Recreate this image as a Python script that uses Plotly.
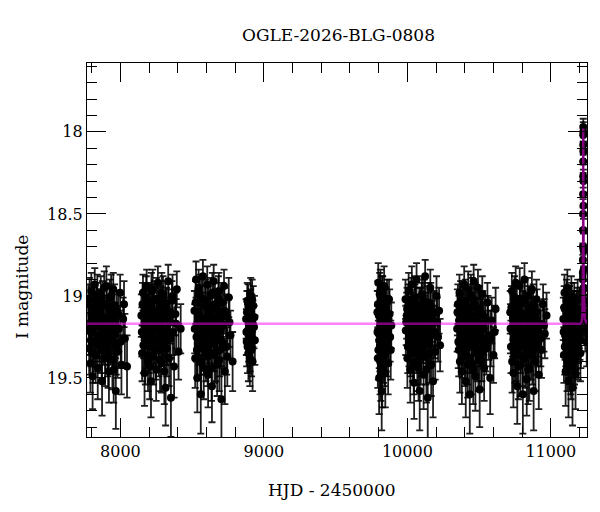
import plotly.graph_objects as go

# ---- data: (HJD-2450000, I mag, error) per observing season ----
season_1 = [(7776,19.05,0.12),(7782,19.32,0.16),(7788,19.18,0.13),(7791,19.41,0.18),(7797,18.97,0.11),
            (7803,19.22,0.14),(7806,19.49,0.20),(7812,19.11,0.12),(7818,19.28,0.15),(7821,18.93,0.10),
            (7827,19.36,0.17),(7833,19.15,0.13),(7836,19.03,0.11),(7842,19.44,0.19),(7848,19.24,0.14),
            (7851,19.08,0.12),(7857,19.31,0.16),(7863,18.99,0.11),(7866,19.19,0.13),(7872,19.52,0.21),
            (7878,19.13,0.12),(7884,19.27,0.15),(7887,18.95,0.10),(7893,19.38,0.17),(7899,19.16,0.13),
            (7905,19.06,0.12),(7911,19.33,0.16),(7917,19.21,0.14),(7920,19.46,0.19),(7926,19.01,0.11),
            (7932,19.25,0.14),(7938,19.12,0.12),(7944,19.39,0.18),(7950,18.96,0.10),(7956,19.29,0.15),
            (7962,19.17,0.13),(7968,19.58,0.23),(7974,19.09,0.12),(7980,19.34,0.16),(7989,19.20,0.14),
            (7998,18.98,0.11),(8007,19.42,0.18),(8019,19.14,0.13),(8031,19.26,0.15),(8046,19.43,0.19)]
season_1b = [(7779,19.21,0.15),(7785,19.02,0.13),(7794,19.27,0.16),(7800,19.12,0.14),(7809,19.35,0.18),
             (7815,19.07,0.13),(7824,19.19,0.15),(7830,19.29,0.17),(7839,18.99,0.12),(7845,19.16,0.14),
             (7854,19.24,0.16),(7860,19.10,0.14),(7869,19.33,0.18),(7875,19.04,0.13),(7881,19.22,0.15),
             (7890,19.14,0.14),(7896,19.30,0.17),(7902,18.94,0.12),(7908,19.18,0.15),(7914,19.37,0.19),
             (7923,19.08,0.13),(7929,19.26,0.16),(7935,19.00,0.13),(7941,19.20,0.15),(7947,19.13,0.14),
             (7953,19.45,0.20),(7959,19.06,0.13),(7965,19.23,0.15),(7971,19.31,0.17),(7985,19.11,0.14),
             (8002,19.28,0.16),(8025,19.05,0.14)]

season_2 = [(8146,19.12,0.13),(8151,19.35,0.17),(8157,18.98,0.11),(8162,19.24,0.14),(8168,19.47,0.20),
            (8171,19.08,0.12),(8177,19.29,0.15),(8183,18.94,0.10),(8186,19.19,0.13),(8192,19.40,0.18),
            (8198,19.04,0.12),(8201,19.31,0.16),(8207,19.15,0.13),(8213,19.52,0.22),(8216,18.97,0.11),
            (8222,19.26,0.15),(8228,19.10,0.12),(8231,19.37,0.17),(8237,19.02,0.11),(8243,19.21,0.14),
            (8249,19.45,0.19),(8255,19.13,0.13),(8261,18.92,0.10),(8267,19.33,0.16),(8273,19.18,0.13),
            (8279,19.06,0.12),(8285,19.41,0.18),(8291,19.23,0.14),(8297,18.99,0.11),(8303,19.30,0.16),
            (8309,19.14,0.13),(8315,19.56,0.23),(8321,19.07,0.12),(8327,19.27,0.15),(8333,18.91,0.10),
            (8339,19.38,0.17),(8345,19.16,0.13),(8352,19.62,0.24),(8359,19.03,0.12),(8366,19.22,0.14),
            (8374,19.43,0.19),(8383,19.11,0.13),(8393,18.96,0.11),(8405,19.34,0.17),(8420,19.20,0.15)]
season_2b = [(8149,19.22,0.15),(8154,19.05,0.13),(8160,19.30,0.17),(8165,19.13,0.14),(8174,19.36,0.18),
             (8180,19.01,0.13),(8189,19.25,0.16),(8195,19.11,0.14),(8204,19.43,0.20),(8210,19.06,0.13),
             (8219,19.20,0.15),(8225,18.96,0.12),(8234,19.28,0.16),(8240,19.15,0.14),(8246,19.33,0.18),
             (8252,19.02,0.13),(8258,19.19,0.15),(8264,19.27,0.16),(8270,19.09,0.14),(8276,19.39,0.19),
             (8282,19.14,0.14),(8288,18.98,0.12),(8294,19.24,0.16),(8300,19.12,0.14),(8306,19.46,0.20),
             (8312,19.04,0.13),(8318,19.21,0.15),(8324,19.32,0.17),(8336,19.10,0.14),(8349,19.26,0.16),
             (8363,19.00,0.13),(8388,19.17,0.15)]

season_3 = [(8516,19.09,0.12),(8521,19.38,0.18),(8527,18.90,0.11),(8530,19.25,0.15),(8536,19.50,0.21),
            (8542,19.13,0.13),(8545,18.95,0.11),(8551,19.32,0.16),(8557,19.18,0.14),(8560,19.60,0.24),
            (8566,19.02,0.12),(8572,19.28,0.15),(8575,18.88,0.10),(8581,19.44,0.19),(8587,19.15,0.13),
            (8590,19.06,0.12),(8596,19.35,0.17),(8602,19.21,0.14),(8605,18.93,0.11),(8611,19.48,0.20),
            (8617,19.11,0.13),(8620,19.30,0.16),(8626,19.00,0.11),(8632,19.23,0.14),(8638,19.55,0.22),
            (8644,19.17,0.13),(8650,18.91,0.10),(8656,19.36,0.17),(8662,19.08,0.12),(8668,19.27,0.15),
            (8674,19.42,0.19),(8680,19.14,0.13),(8686,18.97,0.11),(8692,19.33,0.16),(8698,19.20,0.14),
            (8704,19.63,0.25),(8710,19.04,0.12),(8716,19.29,0.15),(8722,18.94,0.10),(8728,19.46,0.20),
            (8736,19.12,0.13),(8745,19.37,0.18),(8755,19.01,0.12),(8767,19.24,0.15),(8782,19.40,0.18)]
season_3b = [(8518,19.20,0.15),(8524,19.04,0.13),(8533,19.33,0.17),(8539,19.10,0.14),(8548,19.26,0.16),
             (8554,18.99,0.12),(8563,19.40,0.19),(8569,19.14,0.14),(8578,19.22,0.15),(8584,19.31,0.17),
             (8593,19.03,0.13),(8599,19.17,0.15),(8608,19.37,0.18),(8614,19.07,0.13),(8623,19.25,0.16),
             (8629,19.12,0.14),(8635,19.44,0.20),(8641,18.98,0.12),(8647,19.19,0.15),(8653,19.29,0.17),
             (8659,19.05,0.13),(8665,19.34,0.18),(8671,19.15,0.14),(8677,19.23,0.16),(8683,19.01,0.13),
             (8689,19.39,0.19),(8695,19.11,0.14),(8701,19.27,0.16),(8713,19.18,0.15),(8725,19.09,0.14),
             (8740,19.31,0.17),(8760,19.16,0.15)]

season_4 = [(8876,19.14,0.12),(8880,19.28,0.15),(8884,19.03,0.11),(8888,19.21,0.14),(8892,19.35,0.17),
            (8896,19.09,0.12),(8900,19.18,0.13),(8904,19.30,0.16),(8908,19.00,0.11),(8912,19.24,0.14),
            (8916,19.12,0.13),(8921,19.40,0.18),(8926,19.06,0.12),(8931,19.19,0.13),(8937,19.27,0.15)]
season_4b = [(8878,19.22,0.14),(8882,19.10,0.13),(8886,19.31,0.16),(8890,19.05,0.12),(8894,19.25,0.15),
             (8898,19.15,0.13),(8902,19.38,0.17),(8906,19.08,0.12),(8910,19.20,0.14),(8914,19.33,0.16),
             (8918,19.02,0.12),(8923,19.17,0.14),(8934,19.13,0.13)]

season_5 = [(9791,19.10,0.13),(9794,19.38,0.18),(9797,18.92,0.12),(9800,19.23,0.15),(9803,19.50,0.22),
            (9806,19.05,0.13),(9809,19.30,0.16),(9812,18.96,0.12),(9815,19.44,0.20),(9818,19.16,0.14),
            (9821,19.58,0.24),(9824,19.00,0.12),(9827,19.27,0.16),(9830,19.12,0.14),(9834,19.35,0.18),
            (9838,18.94,0.12),(9842,19.20,0.15),(9846,19.47,0.21),(9850,19.08,0.13),(9855,19.32,0.17),
            (9860,19.14,0.14),(9866,19.41,0.19),(9872,19.02,0.12),(9880,19.25,0.15),(9888,19.18,0.14)]
season_5b = [(9792,19.22,0.16),(9795,19.05,0.14),(9798,19.33,0.18),(9801,19.12,0.15),(9804,19.27,0.17),
             (9807,18.99,0.13),(9810,19.40,0.20),(9813,19.17,0.15),(9816,19.07,0.14),(9819,19.30,0.18),
             (9822,19.13,0.15),(9825,19.46,0.22),(9828,19.02,0.14),(9832,19.24,0.16),(9836,19.15,0.15),
             (9840,19.36,0.19),(9844,19.09,0.14),(9848,19.21,0.16),(9853,19.29,0.17),(9858,19.04,0.14),
             (9863,19.19,0.15),(9869,19.26,0.16),(9876,19.11,0.15),(9884,19.33,0.18)]

season_6 = [(9987,19.02,0.12),(9992,19.16,0.14),(9998,19.08,0.13),(10003,19.31,0.16),(10009,18.97,0.11),
            (10014,19.24,0.15),(10020,19.45,0.20),(10025,19.11,0.13),(10031,18.93,0.11),(10036,19.35,0.17),
            (10042,19.19,0.14),(10047,19.53,0.22),(10053,19.05,0.12),(10058,19.28,0.15),(10064,18.90,0.10),
            (10069,19.40,0.18),(10075,19.14,0.13),(10080,19.22,0.14),(10086,19.58,0.24),(10091,19.07,0.12),
            (10097,19.33,0.16),(10102,18.99,0.11),(10108,19.26,0.15),(10113,19.48,0.21),(10119,19.13,0.13),
            (10124,18.88,0.10),(10130,19.37,0.17),(10136,19.20,0.14),(10142,19.62,0.25),(10148,19.04,0.12),
            (10154,19.29,0.15),(10160,18.95,0.11),(10166,19.42,0.19),(10172,19.17,0.14),(10179,19.52,0.22),
            (10186,19.10,0.13),(10194,19.34,0.17),(10203,19.00,0.12),(10214,19.25,0.15),(10228,19.30,0.16)]
season_6b = [(9989,19.21,0.15),(9995,19.12,0.14),(10000,19.38,0.18),(10006,19.06,0.13),(10011,19.27,0.16),
             (10017,19.15,0.14),(10022,19.32,0.17),(10028,19.02,0.13),(10033,19.24,0.16),(10039,19.10,0.14),
             (10044,19.41,0.19),(10050,19.18,0.15),(10055,19.01,0.13),(10061,19.30,0.17),(10066,19.13,0.14),
             (10072,19.25,0.16),(10078,19.44,0.20),(10083,19.09,0.14),(10089,19.20,0.15),(10094,19.36,0.18),
             (10100,19.05,0.13),(10105,19.16,0.15),(10111,19.31,0.17),(10116,19.03,0.13),(10122,19.23,0.16),
             (10127,19.12,0.14),(10133,19.45,0.20),(10139,19.08,0.14),(10145,19.27,0.16),(10151,19.19,0.15),
             (10157,19.35,0.18),(10163,19.06,0.14),(10169,19.24,0.16),(10176,19.13,0.15),(10190,19.22,0.16),
             (10208,19.16,0.15),(10221,19.09,0.14)]

season_7 = [(10347,19.20,0.14),(10352,19.05,0.12),(10358,19.33,0.16),(10363,18.98,0.11),(10369,19.26,0.15),
            (10374,19.12,0.13),(10380,19.46,0.20),(10385,19.03,0.12),(10391,19.30,0.16),(10396,18.93,0.11),
            (10402,19.18,0.14),(10407,19.52,0.22),(10413,19.09,0.13),(10418,19.37,0.17),(10424,18.96,0.11),
            (10429,19.23,0.15),(10435,19.60,0.24),(10440,19.14,0.13),(10446,19.41,0.19),(10451,19.01,0.12),
            (10457,19.28,0.15),(10462,18.91,0.10),(10468,19.16,0.14),(10474,19.49,0.21),(10480,19.07,0.12),
            (10486,19.35,0.17),(10492,18.95,0.11),(10498,19.21,0.14),(10504,19.57,0.23),(10510,19.11,0.13),
            (10516,19.39,0.18),(10522,18.99,0.11),(10528,19.27,0.15),(10535,19.44,0.20),(10542,19.13,0.13),
            (10550,19.32,0.16),(10558,19.04,0.12),(10567,19.24,0.15),(10577,19.50,0.22),(10588,19.15,0.14),
            (10600,19.36,0.17),(10615,19.08,0.13)]
season_7b = [(10349,19.10,0.14),(10355,19.28,0.16),(10360,19.15,0.15),(10366,19.40,0.19),(10371,19.04,0.13),
             (10377,19.22,0.16),(10382,19.33,0.17),(10388,19.09,0.14),(10393,19.19,0.15),(10399,19.37,0.18),
             (10404,19.03,0.13),(10410,19.25,0.16),(10415,19.14,0.15),(10421,19.42,0.20),(10426,19.07,0.14),
             (10432,19.30,0.17),(10437,19.18,0.15),(10443,19.00,0.13),(10448,19.26,0.16),(10454,19.12,0.14),
             (10459,19.45,0.21),(10465,19.21,0.16),(10471,19.05,0.13),(10477,19.31,0.17),(10483,19.16,0.15),
             (10489,19.24,0.16),(10495,19.39,0.19),(10501,19.08,0.14),(10507,19.27,0.16),(10513,19.17,0.15),
             (10519,19.34,0.18),(10525,19.11,0.14),(10532,19.20,0.16),(10546,19.29,0.17),(10562,19.15,0.15),
             (10582,19.26,0.17),(10608,19.22,0.16)]

season_8 = [(10717,19.10,0.13),(10722,19.31,0.16),(10728,18.97,0.11),(10733,19.22,0.15),(10739,19.47,0.21),
            (10744,19.06,0.12),(10750,19.36,0.17),(10755,18.92,0.10),(10761,19.19,0.14),(10766,19.55,0.23),
            (10772,19.13,0.13),(10777,19.29,0.15),(10783,18.94,0.11),(10788,19.42,0.19),(10794,19.16,0.14),
            (10799,19.03,0.12),(10805,19.60,0.24),(10810,19.25,0.15),(10816,18.90,0.10),(10821,19.38,0.18),
            (10827,19.11,0.13),(10832,19.51,0.22),(10838,19.00,0.11),(10844,19.27,0.15),(10850,19.44,0.20),
            (10856,19.08,0.12),(10862,19.34,0.17),(10868,18.96,0.11),(10874,19.20,0.14),(10880,19.58,0.24),
            (10886,19.14,0.13),(10893,19.40,0.18),(10900,19.02,0.12),(10908,19.28,0.15),(10916,19.48,0.21),
            (10925,19.17,0.14),(10935,19.33,0.17),(10946,19.05,0.12),(10958,19.23,0.15),(10970,19.12,0.14)]
season_8b = [(10719,19.20,0.15),(10725,19.07,0.13),(10730,19.40,0.19),(10736,19.13,0.14),(10741,19.26,0.16),
             (10747,19.01,0.13),(10752,19.18,0.15),(10758,19.34,0.18),(10763,19.09,0.14),(10769,19.24,0.16),
             (10774,19.43,0.20),(10780,19.15,0.15),(10785,19.05,0.13),(10791,19.30,0.17),(10796,19.21,0.16),
             (10802,19.37,0.18),(10807,19.11,0.14),(10813,19.27,0.16),(10818,19.03,0.13),(10824,19.22,0.16),
             (10829,19.32,0.17),(10835,19.14,0.15),(10841,19.45,0.21),(10847,19.08,0.14),(10853,19.19,0.15),
             (10859,19.29,0.17),(10865,19.12,0.14),(10871,19.36,0.18),(10877,19.06,0.13),(10883,19.25,0.16),
             (10890,19.16,0.15),(10897,19.31,0.17),(10904,19.10,0.14),(10912,19.21,0.16),(10930,19.26,0.17),
             (10952,19.18,0.16)]

season_9 = [(11087,19.14,0.13),(11091,19.36,0.17),(11095,18.98,0.11),(11099,19.24,0.15),(11103,19.46,0.21),
            (11107,19.09,0.13),(11111,19.30,0.16),(11115,18.95,0.11),(11119,19.19,0.14),(11123,19.52,0.22),
            (11127,19.06,0.12),(11131,19.33,0.17),(11135,19.12,0.13),(11139,19.41,0.19),(11143,19.00,0.12),
            (11147,19.27,0.15),(11151,19.56,0.23),(11155,19.15,0.14),(11159,19.38,0.18),(11163,19.04,0.12),
            (11167,19.22,0.15),(11172,19.48,0.21),(11177,19.10,0.13),(11182,19.31,0.16),(11187,19.02,0.12),
            (11193,19.26,0.15),(11199,19.18,0.14),(11206,19.35,0.17),(11212,19.11,0.13)]
season_9b = [(11089,19.22,0.15),(11093,19.07,0.13),(11097,19.31,0.17),(11101,19.15,0.14),(11105,19.27,0.16),
             (11109,19.03,0.13),(11113,19.39,0.19),(11117,19.12,0.14),(11121,19.21,0.16),(11125,19.34,0.18),
             (11129,19.08,0.14),(11133,19.25,0.16),(11137,19.17,0.15),(11141,19.43,0.20),(11145,19.05,0.13),
             (11149,19.20,0.15),(11153,19.30,0.17),(11157,19.11,0.14),(11161,19.24,0.16),(11165,19.36,0.18),
             (11170,19.14,0.15),(11175,19.28,0.17),(11180,19.19,0.15),(11185,19.09,0.14),(11190,19.33,0.18),
             (11196,19.16,0.15),(11203,19.23,0.16),(11209,19.27,0.17),(11215,19.13,0.15)]

event = [(11218,19.08,0.13),(11220,19.02,0.12),(11221,18.97,0.12),(11222,19.00,0.12),(11222.6,18.90,0.11),
         (11223,18.86,0.11),(11223.5,18.78,0.10),(11224,18.70,0.10),(11224.4,18.60,0.09),(11224.8,18.50,0.09),
         (11225.1,18.38,0.08),(11225.4,18.27,0.07),(11225.6,18.18,0.07),(11225.8,18.08,0.06),(11226,18.00,0.06),
         (11226.1,17.97,0.05),(11226.3,18.02,0.06),(11226.5,18.12,0.06),(11226.8,18.30,0.07),(11227.2,18.45,0.08),
         (11227.6,18.60,0.09),(11228,18.72,0.10),(11228.7,18.84,0.10),(11229.5,18.95,0.11),(11231,19.03,0.12),
         (11233,19.10,0.13),(11236,19.12,0.13),(11240,19.20,0.14),(11245,19.15,0.14),(11250,19.28,0.15)]

# model light curve (fit)
model_hjd = [7767, 11205, 11214, 11218, 11220.5, 11222, 11223.2, 11224.2, 11225, 11225.6, 11226,
             11226.4, 11227, 11227.8, 11229, 11230.5, 11233, 11237, 11246, 11252]
model_mag = [19.17, 19.17, 19.16, 19.14, 19.10, 19.04, 18.93, 18.75, 18.50, 18.20, 17.98,
             18.20, 18.50, 18.75, 18.93, 19.04, 19.10, 19.14, 19.16, 19.17]

title_text = "OGLE-2026-BLG-0808"
x_title = "HJD - 2450000"
y_title = "I magnitude"
x_ticks = [8000, 9000, 10000, 11000]
y_ticks = [18, 18.5, 19, 19.5]
y_ticklabels = ["18", "18.5", "19", "19.5"]

# ---- build ----
seasons = [season_1, season_1b, season_2, season_2b, season_3, season_3b, season_4, season_4b,
           season_5, season_5b, season_6, season_6b, season_7, season_7b, season_8, season_8b,
           season_9, season_9b, event]
all_pts = [p for s in seasons for p in s]
hjd = [p[0] for p in all_pts]
mag = [p[1] for p in all_pts]
err = [p[2] for p in all_pts]

FONT = "DejaVu Serif"

fig = go.Figure()
fig.add_trace(go.Scatter(
    x=hjd, y=mag, mode="markers",
    marker=dict(color="black", size=8),
    error_y=dict(type="data", array=err, visible=True, color="rgba(0,0,0,0.88)", thickness=1.8, width=3.5),
    showlegend=False, hoverinfo="skip"))
fig.add_trace(go.Scatter(
    x=model_hjd, y=model_mag, mode="lines",
    line=dict(color="rgba(255,0,255,0.5)", width=2.5),
    showlegend=False, hoverinfo="skip"))

L, R, T, B = 87, 13, 63, 75
W, H = 600, 512
pw, ph = W - L - R, H - T - B

def px2paper(px, py):
    return (px - L) / pw, (H - B - py) / ph

axis_common = dict(
    showline=True, linecolor="black", linewidth=1.3, mirror="allticks",
    ticks="inside", tickcolor="black", tickwidth=1, ticklen=19,
    showgrid=False, zeroline=False,
    tickfont=dict(family=FONT, size=16, color="black"),
)

fig.update_xaxes(range=[7767, 11252], tickvals=x_ticks, ticktext=[str(v) for v in x_ticks],
                 minor=dict(dtick=200, tick0=0, ticks="inside", ticklen=10, tickcolor="black", tickwidth=1),
                 **axis_common)
fig.update_yaxes(range=[19.86, 17.58], tickvals=y_ticks, ticktext=y_ticklabels,
                 minor=dict(dtick=0.1, tick0=0, ticks="inside", ticklen=10, tickcolor="black", tickwidth=1),
                 **axis_common)

annots = []
tx, ty = px2paper(338, 35)
annots.append(dict(text=title_text, x=tx, y=ty, xref="paper", yref="paper", showarrow=False,
                   font=dict(family=FONT, size=17, color="black"), xanchor="center", yanchor="middle"))
ax_, ay_ = px2paper(332, 490)
annots.append(dict(text=x_title, x=ax_, y=ay_, xref="paper", yref="paper", showarrow=False,
                   font=dict(family=FONT, size=17, color="black"), xanchor="center", yanchor="middle"))
bx, by = px2paper(22, 287)
annots.append(dict(text=y_title, x=bx, y=by, xref="paper", yref="paper", showarrow=False, textangle=-90,
                   font=dict(family=FONT, size=17, color="black"), xanchor="center", yanchor="middle"))

fig.update_layout(width=W, height=H, margin=dict(l=L, r=R, t=T, b=B),
                  plot_bgcolor="white", paper_bgcolor="white", annotations=annots)

fig.write_html("out.html")
